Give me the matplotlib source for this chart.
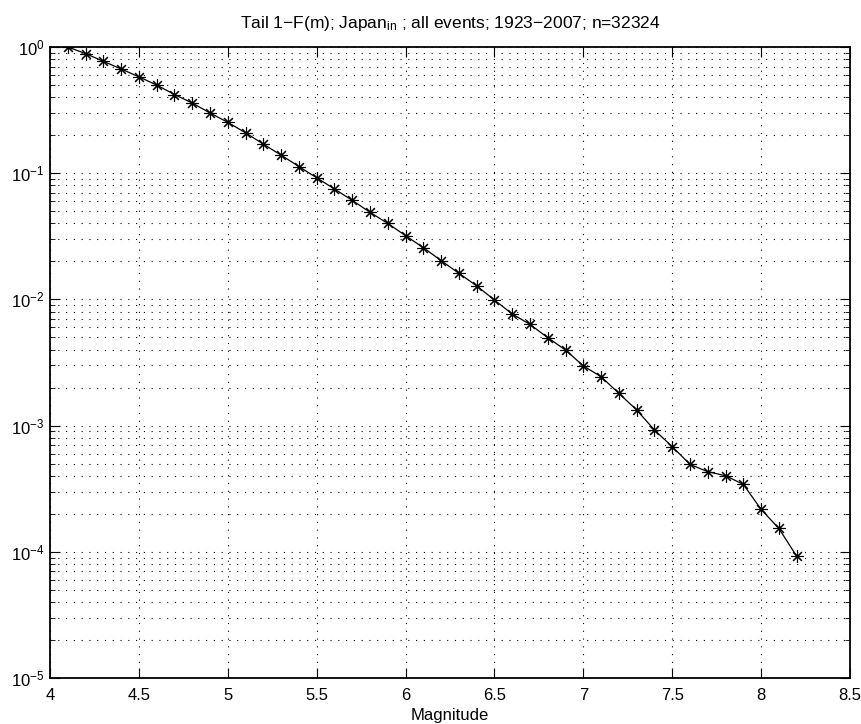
import matplotlib
matplotlib.use("Agg")
import matplotlib.pyplot as plt
from matplotlib.ticker import LogLocator, NullFormatter

plt.rcParams['font.family'] = ['Liberation Sans', 'DejaVu Sans']
plt.rcParams['mathtext.fontset'] = 'custom'
plt.rcParams['mathtext.rm'] = 'Liberation Sans'
plt.rcParams['mathtext.it'] = 'Liberation Sans:italic'

magnitude = [4.1, 4.2, 4.3, 4.4, 4.5, 4.6, 4.7, 4.8, 4.9, 5.0,
             5.1, 5.2, 5.3, 5.4, 5.5, 5.6, 5.7, 5.8, 5.9, 6.0,
             6.1, 6.2, 6.3, 6.4, 6.5, 6.6, 6.7, 6.8, 6.9, 7.0,
             7.1, 7.2, 7.3, 7.4, 7.5, 7.6, 7.7, 7.8, 7.9, 8.0,
             8.1, 8.2]
tail = [1.0, 0.887, 0.77, 0.67, 0.58, 0.50, 0.42, 0.36, 0.30, 0.253,
        0.209, 0.170, 0.139, 0.113, 0.092, 0.075, 0.061, 0.049, 0.040, 0.032,
        0.0257, 0.0203, 0.0161, 0.0128, 0.00989, 0.00766, 0.00634, 0.00497, 0.00397, 0.00297,
        0.00244, 0.00180, 0.00133, 0.000923, 0.000681, 0.000493, 0.000431, 0.000401, 0.000342, 0.000217,
        0.000153, 0.0000923]
x_ticks = [4, 4.5, 5, 5.5, 6, 6.5, 7, 7.5, 8, 8.5]

fig = plt.figure(figsize=(8.62, 7.24), dpi=100)
ax = fig.add_axes([50 / 862, 46 / 724, 800 / 862, 631 / 724])

# MATLAB style '*' marker: 8-spoke asterisk
ax.semilogy(magnitude, tail, color='black', linewidth=0.9,
            marker=(8, 2, 0), markersize=9, markeredgewidth=0.8)

ax.set_xlim(4, 8.5)
ax.set_ylim(1e-5, 1)
ax.set_xticks(x_ticks)
ax.set_xticklabels([f"{t:g}" for t in x_ticks])
ax.yaxis.set_major_locator(LogLocator(base=10, numticks=10))
ax.yaxis.set_minor_locator(LogLocator(base=10, subs=range(2, 10), numticks=20))
ax.yaxis.set_minor_formatter(NullFormatter())

dots = (0, (1, 6))
ax.grid(True, which='major', linestyle=dots, color='black', linewidth=0.8)
ax.grid(True, which='minor', axis='y', linestyle=dots, color='black', linewidth=0.8)

ax.tick_params(which='both', direction='in', top=True, right=True, labelsize=12)
ax.tick_params(which='major', length=7)
ax.tick_params(which='minor', length=3.5)
ax.tick_params(axis='x', pad=7)
ax.tick_params(axis='y', pad=4)
for s in ax.spines.values():
    s.set_linewidth(1.3)

ax.set_xlabel("Magnitude", fontsize=12, labelpad=4)
ax.set_title("Tail 1\u2212F(m); Japan$_{\\rm in}$ ; all events; 1923\u22122007; n=32324",
             fontsize=12.5, pad=14)

fig.savefig("out.png", dpi=100)
